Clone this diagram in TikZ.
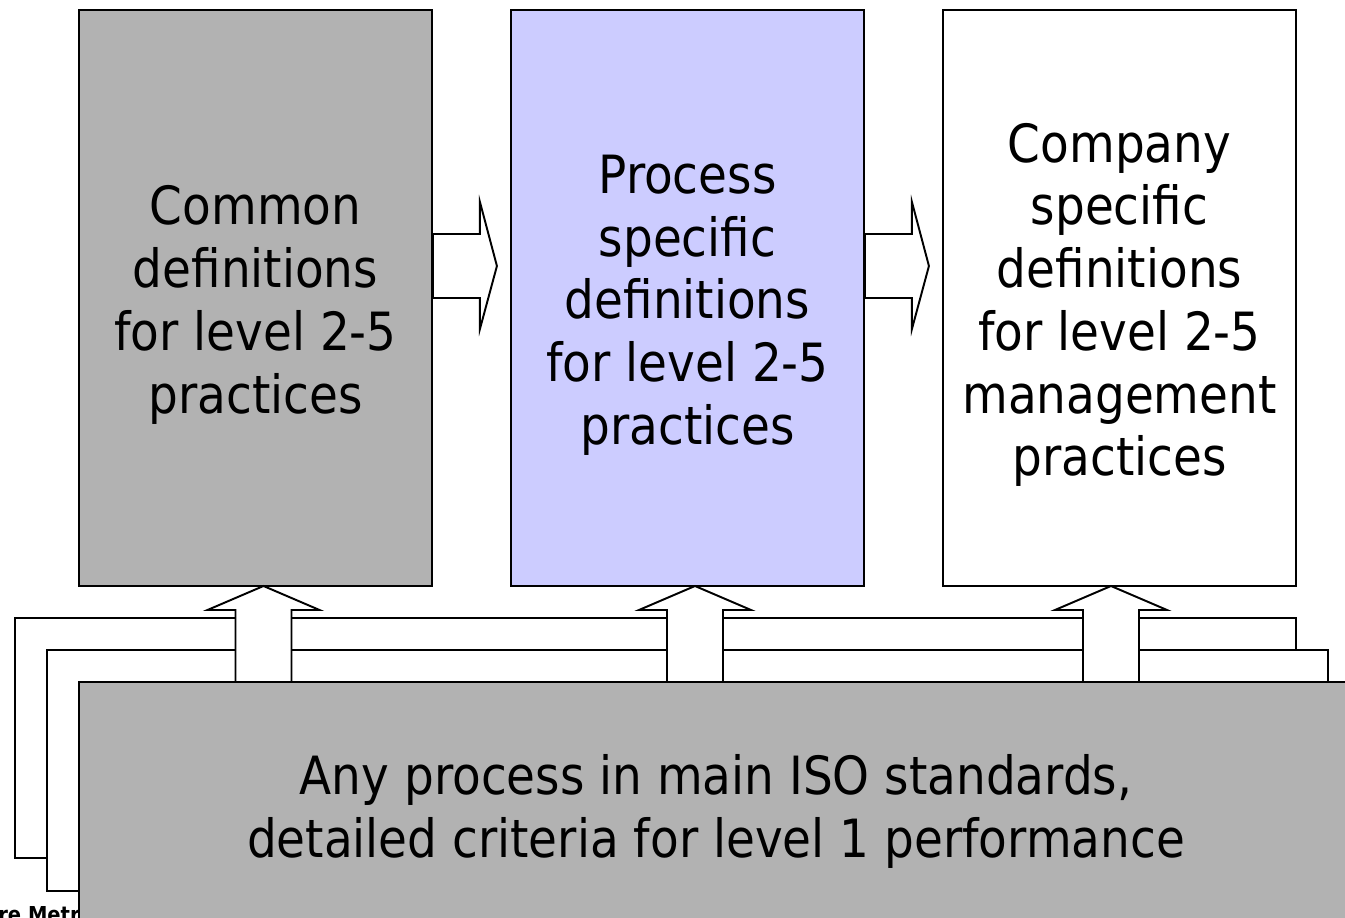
\documentclass[tikz,border=0pt]{standalone}
\usepackage{fontspec}
\setmainfont{DejaVu Sans}[FakeStretch=0.89]
\definecolor{boxgray}{RGB}{178,178,178}
\definecolor{boxblue}{RGB}{204,204,255}
\tikzset{
	levelbox/.style={draw, line width=1.1pt, minimum width=7.06cm, minimum height=11.52cm, inner sep=0pt},
	boxtext/.style={align=center, inner sep=0pt, font=\fontsize{30}{35.7}\selectfont},
	layer/.style={draw, fill=white, line width=1.1pt},
	blockarrow/.style={draw, fill=white, line width=1.1pt, line join=miter},
}
\begin{document}
\begin{tikzpicture}[x=0.02cm, y=-0.02cm]
		\useasboundingbox (0,0) rectangle (1345,918);
		
		% Drei Kaesten oben
		\node[levelbox, fill=boxgray] (common) at (255.5,298) {};
		\node[levelbox, fill=boxblue] (process) at (687.5,298) {};
		\node[levelbox, fill=white] (company) at (1119.5,298) {};
		\node[boxtext] (commontext) at ([yshift=-0.14cm]common.center) {Common\\definitions\\for level 2-5\\practices};
		\node[boxtext] (processtext) at ([yshift=-0.14cm]process.center) {Process\\specific\\definitions\\for level 2-5\\practices};
		\node[boxtext] (companytext) at ([yshift=-0.14cm]company.center) {Company\\specific\\definitions\\for level 2-5\\management\\practices};
		
		% Pfeile nach rechts
		\foreach \a in {common,process} {
			\draw[blockarrow] (\a.east) -- ++(47,0) -- ++(0,31) -- ++(17,-63) -- ++(-17,-64)
				-- ++(0,32) -- ++(-47,0) -- cycle;
		}
		
		% Ebenen hinten
		\foreach \i in {0,1} {
			\draw[layer] (15+32*\i,618+32*\i) rectangle (1296+32*\i,858+33*\i);
		}
		
		% Pfeile nach oben
		\foreach \x in {263.5,695,1111} {
			\draw[blockarrow] (\x,682) -- ++(-28,0) -- ++(0,-72) -- ++(-28,0) -- ++(56,-24)
				-- ++(56,24) -- ++(-28,0) -- ++(0,72) -- cycle;
		}
		
		% Fusszeile (halb verdeckt)
		\node[anchor=base west, inner sep=0pt, font=\bfseries\fontsize{12.5}{15}\selectfont] (footer) at (-2,922) {re Metrics};
		
		% Grundebene
		\draw[line width=1.1pt, fill=boxgray] (79,682) rectangle (1400,1000);
		\node[boxtext, anchor=base] (base) at (716,857)
			{Any process in main ISO standards,\\detailed criteria for level 1 performance};
	\end{tikzpicture}
\end{document}
